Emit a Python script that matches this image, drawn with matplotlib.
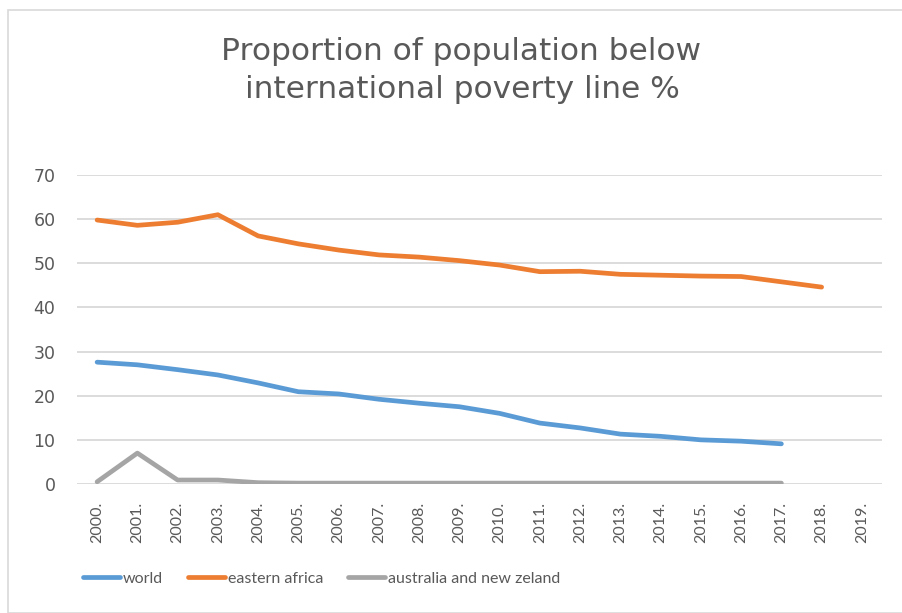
import matplotlib
matplotlib.use("Agg")
import matplotlib.pyplot as plt
from matplotlib.patches import Rectangle

years = [f"{y}." for y in range(2000, 2020)]
world = [27.6, 27.0, 25.9, 24.7, 22.9, 20.9, 20.4, 19.2, 18.3, 17.5, 16.0,
         13.8, 12.7, 11.3, 10.8, 10.0, 9.7, 9.1]
eastern_africa = [59.8, 58.6, 59.3, 61.0, 56.2, 54.4, 53.0, 51.9, 51.4, 50.6,
                  49.6, 48.1, 48.2, 47.5, 47.3, 47.1, 47.0, 45.8, 44.6]
australia_nz = [0.5, 7.0, 0.9, 0.9, 0.3, 0.2, 0.2, 0.2, 0.2, 0.2, 0.2, 0.2,
                0.2, 0.2, 0.2, 0.2, 0.2, 0.2]

series_names = ["world", "eastern africa", "australia and new zeland"]
colors = ["#5b9bd5", "#ed7d31", "#a5a5a5"]
txt = "#595959"

plt.rcParams['font.family'] = ['Lato', 'DejaVu Sans']

fig = plt.figure(figsize=(9.02, 6.13), dpi=100)
fig.patches.append(Rectangle((8/902, 0.5/613), 1.0, 1 - 10.5/613, transform=fig.transFigure,
                             fill=False, edgecolor="#d9d9d9", linewidth=1.2))
ax = fig.add_axes([77/902, 1 - 484/613, 805/902, 309/613])

x_all = list(range(len(years)))
data = [world, eastern_africa, australia_nz]
for vals, name, c in zip(data, series_names, colors):
    ax.plot(x_all[:len(vals)], vals, color=c, linewidth=3.4, label=name,
            solid_capstyle='round', solid_joinstyle='round', zorder=3)

ax.set_xlim(-0.5, len(years) - 0.5)
ax.set_ylim(0, 70)
ax.set_yticks(range(0, 71, 10))
ax.set_xticks(x_all)
ax.set_xticklabels(years, rotation=90)
ax.grid(axis='y', color="#d9d9d9", linewidth=1.3, zorder=0)
ax.set_axisbelow(True)
for s in ax.spines.values():
    s.set_visible(False)
ax.tick_params(axis='both', length=0, colors=txt)
ax.tick_params(axis='y', pad=15.5, labelsize=12.5)
ax.tick_params(axis='x', pad=13, labelsize=11.5)
for lab in ax.get_yticklabels():
    lab.set_family(['DejaVu Sans'])

fig.text(461.5/902, 1 - 60/613, "Proportion of population below",
         ha='center', va='baseline', fontsize=22.5, color=txt, family=['DejaVu Sans'])
fig.text(462/902, 1 - 98/613, "international poverty line %",
         ha='center', va='baseline', fontsize=22.5, color=txt, family=['DejaVu Sans'])

leg = fig.legend(loc='center left', bbox_to_anchor=(83/902, 1 - 579/613), ncol=3,
                 frameon=False, handlelength=2.3, handletextpad=0.2,
                 columnspacing=1.55, fontsize=11.5, borderpad=0, borderaxespad=0)
for t in leg.get_texts():
    t.set_color(txt)
for h in leg.get_lines():
    h.set_linewidth(3.4)
    h.set_solid_capstyle('round')

fig.savefig("out.png", dpi=100)
